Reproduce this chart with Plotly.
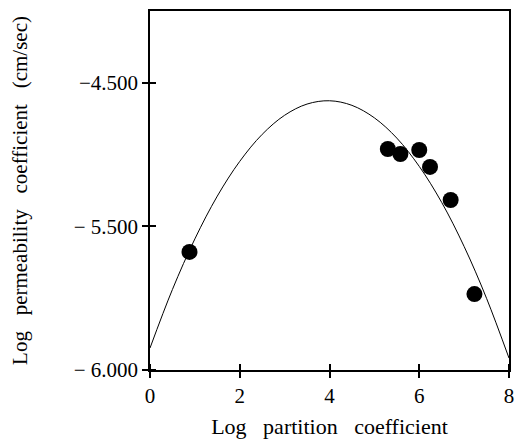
import plotly.graph_objects as go

# Data
point_x = [0.88, 5.30, 5.58, 6.00, 6.24, 6.70, 7.23]
point_y = [-5.678, -4.961, -4.996, -4.968, -5.086, -5.316, -5.971]

curve_x = [0, 0.5, 1, 1.5, 2, 2.5, 3, 3.5, 4, 4.5, 5, 5.5, 6, 6.5, 7, 7.5, 8]
curve_y = [-6.347, -5.939, -5.587, -5.289, -5.047, -4.859, -4.726, -4.648, -4.625,
           -4.657, -4.744, -4.885, -5.082, -5.333, -5.640, -6.001, -6.417]

x_ticks = [0, 2, 4, 6, 8]
x_ticktext = ["0", "2", "4", "6", "8"]
y_ticks = [-4.5, -5.5, -6.5]
y_ticktext = ["−4.500", "− 5.500", "− 6.000"]

FONT = "Liberation Serif, Times New Roman, serif"

# inner halves of the cross ticks (minor ticks, nudged so they are not merged with majors)
x_inner = [v + 1e-4 for v in x_ticks]
y_inner = [v + 1e-4 for v in y_ticks]

fig = go.Figure()
fig.add_trace(go.Scatter(x=curve_x, y=curve_y, mode="lines",
                         line=dict(color="black", width=1, shape="spline"),
                         showlegend=False, hoverinfo="skip"))
fig.add_trace(go.Scatter(x=point_x, y=point_y, mode="markers",
                         marker=dict(color="black", size=16), showlegend=False))

fig.update_layout(
    width=518, height=441,
    margin=dict(l=150, r=4, t=11, b=71),
    paper_bgcolor="white", plot_bgcolor="white",
    font=dict(family=FONT, color="black", size=18),
    xaxis=dict(range=[0, 8], tickvals=x_ticks, ticktext=x_ticktext,
               showgrid=False, zeroline=False, showline=True, linecolor="black",
               linewidth=1.5, mirror=True, ticks="outside", ticklen=6,
               tickcolor="black", tickwidth=1.5,
               minor=dict(tickmode="array", tickvals=x_inner, ticks="inside",
                          ticklen=6, tickcolor="black", tickwidth=1.5, showgrid=False),
               tickfont=dict(family=FONT, size=21),
               title=dict(text="Log   partition   coefficient",
                          font=dict(family=FONT, size=22), standoff=12)),
    yaxis=dict(range=[-6.5, -4.0], tickvals=y_ticks, ticktext=y_ticktext,
               showgrid=False, zeroline=False, showline=True, linecolor="black",
               linewidth=1.5, mirror=True, ticks="outside", ticklen=6,
               tickcolor="black", tickwidth=1.5,
               minor=dict(tickmode="array", tickvals=y_inner, ticks="inside",
                          ticklen=6, tickcolor="black", tickwidth=1.5, showgrid=False),
               tickfont=dict(family=FONT, size=21),
               title=dict(text="Log   permeability   coefficient   (cm/sec)",
                          font=dict(family=FONT, size=21), standoff=40)),
)

fig.write_html("out.html")
